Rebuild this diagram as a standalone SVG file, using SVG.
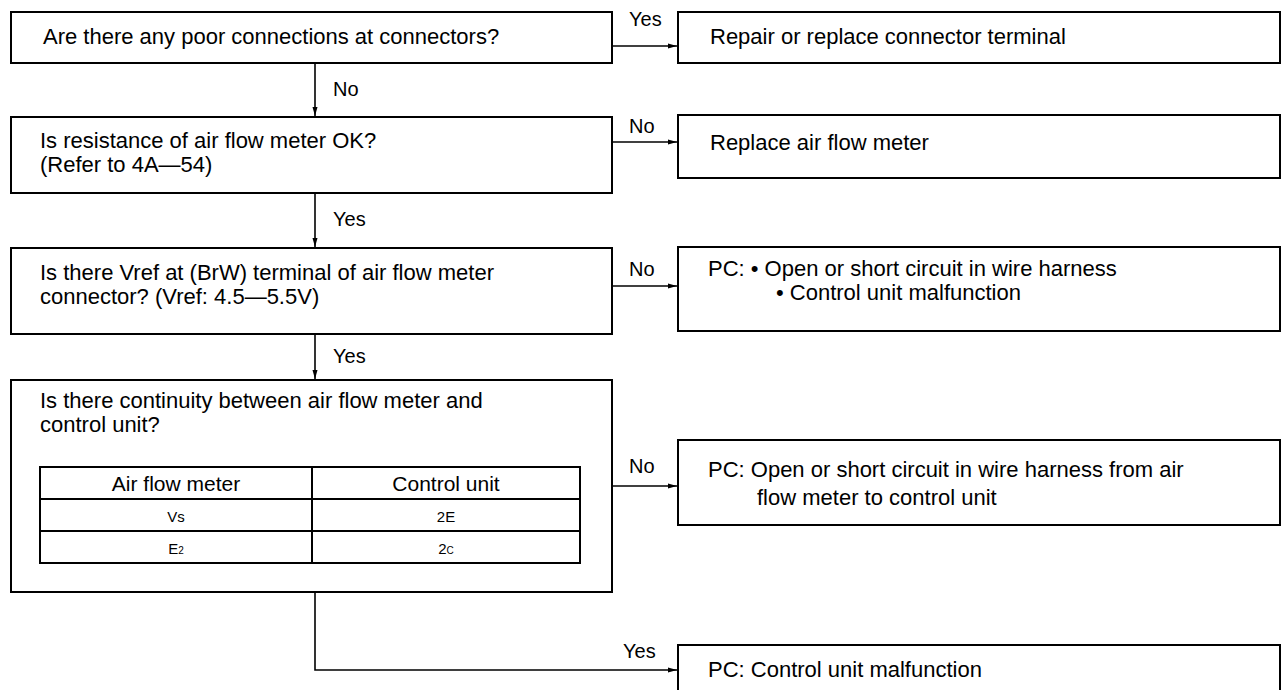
<svg xmlns="http://www.w3.org/2000/svg" width="1285" height="690" viewBox="0 0 1285 690">
<defs>
<style>
.box{fill:#fff;stroke:#000;stroke-width:2}
.t{font-family:"Liberation Sans",Arial,sans-serif;font-size:22px;fill:#000}
.s{font-family:"Liberation Sans",Arial,sans-serif;font-size:20px;fill:#000}
.c{font-family:"Liberation Sans",Arial,sans-serif;font-size:21px;fill:#000;text-anchor:middle}
.r{font-family:"Liberation Sans",Arial,sans-serif;font-size:15px;fill:#000;text-anchor:middle}
.ln{fill:none;stroke:#000;stroke-width:1.6}
.tb{fill:none;stroke:#000;stroke-width:2}
</style>
<marker id="ah" markerWidth="10" markerHeight="8" refX="9" refY="4" orient="auto" markerUnits="userSpaceOnUse">
<path d="M0,1.5 L9,4 L0,6.5 Z" fill="#000"/>
</marker>
</defs>
<rect width="1285" height="690" fill="#fff"/>
<g id="connectors">
<path class="ln" d="M612,46 H677" marker-end="url(#ah)"/>
<path class="ln" d="M315,63 V116" marker-end="url(#ah)"/>
<path class="ln" d="M612,142 H677" marker-end="url(#ah)"/>
<path class="ln" d="M315,193 V247" marker-end="url(#ah)"/>
<path class="ln" d="M612,286 H677" marker-end="url(#ah)"/>
<path class="ln" d="M315,334 V379" marker-end="url(#ah)"/>
<path class="ln" d="M612,486 H677" marker-end="url(#ah)"/>
<path class="ln" d="M315,592 V670 H677" marker-end="url(#ah)"/>
<text class="s" x="629" y="26">Yes</text>
<text class="s" x="333" y="96">No</text>
<text class="s" x="629" y="133">No</text>
<text class="s" x="333" y="226">Yes</text>
<text class="s" x="629" y="276">No</text>
<text class="s" x="333" y="363">Yes</text>
<text class="s" x="629" y="473">No</text>
<text class="s" x="623" y="658">Yes</text>
</g>
<g id="q1">
<rect class="box" x="11" y="12" width="601" height="51"/>
<text class="t" x="43" y="44">Are there any poor connections at connectors?</text>
</g>
<g id="a1">
<rect class="box" x="678" y="12" width="602" height="51"/>
<text class="t" x="710" y="44">Repair or replace connector terminal</text>
</g>
<g id="q2">
<rect class="box" x="11" y="117" width="601" height="76"/>
<text class="t" x="40" y="148">Is resistance of air flow meter OK?</text>
<text class="t" x="40" y="172">(Refer to 4A—54)</text>
</g>
<g id="a2">
<rect class="box" x="678" y="115" width="602" height="63"/>
<text class="t" x="710" y="150">Replace air flow meter</text>
</g>
<g id="q3">
<rect class="box" x="11" y="248" width="601" height="86"/>
<text class="t" x="40" y="280">Is there Vref at (BrW) terminal of air flow meter</text>
<text class="t" x="40" y="304">connector? (Vref: 4.5—5.5V)</text>
</g>
<g id="a3">
<rect class="box" x="678" y="247" width="602" height="84"/>
<text class="t" x="708" y="276">PC: • Open or short circuit in wire harness</text>
<text class="t" x="776" y="300">• Control unit malfunction</text>
</g>
<g id="q4">
<rect class="box" x="11" y="380" width="601" height="212"/>
<text class="t" x="40" y="408">Is there continuity between air flow meter and</text>
<text class="t" x="40" y="432">control unit?</text>
<rect class="tb" x="40" y="467" width="540" height="96"/>
<line class="tb" x1="40" y1="499" x2="580" y2="499"/>
<line class="tb" x1="40" y1="531" x2="580" y2="531"/>
<line class="tb" x1="312" y1="467" x2="312" y2="563"/>
<text class="c" x="176" y="491">Air flow meter</text>
<text class="c" x="446" y="491">Control unit</text>
<text class="r" x="176" y="522">Vs</text>
<text class="r" x="446" y="522">2E</text>
<text class="r" x="176" y="554">E<tspan style="font-size:10px">2</tspan></text>
<text class="r" x="446" y="554">2<tspan style="font-size:10px">C</tspan></text>
</g>
<g id="a4">
<rect class="box" x="678" y="440" width="602" height="85"/>
<text class="t" x="708" y="477">PC: Open or short circuit in wire harness from air</text>
<text class="t" x="757" y="505">flow meter to control unit</text>
</g>
<g id="a5">
<rect class="box" x="678" y="645" width="602" height="60"/>
<text class="t" x="708" y="677">PC: Control unit malfunction</text>
</g>
</svg>
